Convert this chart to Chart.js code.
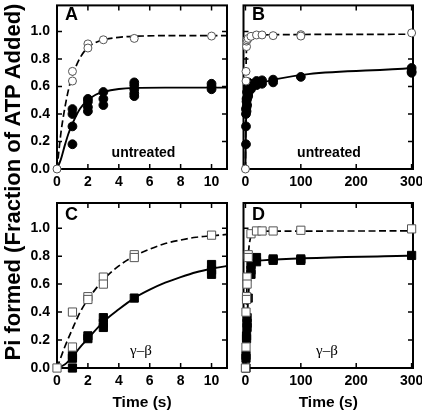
<!DOCTYPE html>
<html>
<head>
<meta charset="utf-8">
<script src="https://cdn.jsdelivr.net/npm/chart.js@4.4.0/dist/chart.umd.min.js"></script>
<style>
  html, body { margin: 0; padding: 0; background: #fff; }
  #wrap { position: relative; width: 422px; height: 412px; overflow: hidden; font-family: Arial, "Liberation Sans", sans-serif; }
  #wrap canvas { position: absolute; left: 0; top: 0; }
  .txt { position: absolute; color: #000; white-space: nowrap; }
  .letter { font-weight: bold; font-size: 18px; line-height: 18px; }
  .cond { font-weight: bold; font-size: 14px; line-height: 14px; width: 100px; text-align: center; }
  .gb { font-family: "Liberation Serif", "Times New Roman", serif; font-size: 15px; line-height: 15px; width: 60px; text-align: center; }
  #ytitle { font-weight: bold; font-size: 22px; line-height: 24px; width: 420px; text-align: center;
            left: -197px; top: 170px; transform: rotate(-90deg); }
</style>
</head>
<body>
<div id="wrap">
  <canvas id="panelA" width="422" height="412"></canvas>
  <canvas id="panelB" width="422" height="412"></canvas>
  <canvas id="panelC" width="422" height="412"></canvas>
  <canvas id="panelD" width="422" height="412"></canvas>
  <div class="txt" id="ytitle">Pi formed (Fraction of ATP Added)</div>
  <div class="txt letter" style="left:65px; top:4.7px;">A</div>
  <div class="txt letter" style="left:252px; top:4.7px;">B</div>
  <div class="txt letter" style="left:65px; top:204.7px;">C</div>
  <div class="txt letter" style="left:252px; top:204.7px;">D</div>
  <div class="txt cond" style="left:93.5px; top:145px;">untreated</div>
  <div class="txt cond" style="left:279px; top:145px;">untreated</div>
  <div class="txt gb" style="left:111px; top:342.5px;">γ–β</div>
  <div class="txt gb" style="left:297px; top:342.5px;">γ–β</div>
</div>
<script>
// Panel A: untreated, 0-10 s
const aOpenT = [0, 1, 1, 2, 2, 3, 5, 10];
const aOpenY = [0, 0.71, 0.64, 0.91, 0.88, 0.94, 0.95, 0.967];
const aFillT = [1, 1, 1, 1, 2, 2, 2, 2, 3, 3, 3, 5, 5, 5, 5, 5, 10, 10, 10];
const aFillY = [0.436, 0.40, 0.31, 0.18, 0.51, 0.49, 0.45, 0.42, 0.56, 0.51, 0.465, 0.63, 0.61, 0.58, 0.55, 0.53, 0.62, 0.60, 0.58];
const aFitT = [0, 0.25, 0.5, 0.75, 1, 1.5, 2, 2.5, 3, 4, 5, 7, 11];
const aDashY = [0, 0.26, 0.44, 0.58, 0.68, 0.81, 0.885, 0.92, 0.94, 0.958, 0.965, 0.97, 0.97];
const aSolidY = [0, 0.07, 0.17, 0.26, 0.33, 0.44, 0.50, 0.54, 0.56, 0.582, 0.59, 0.592, 0.592];

// Panel B: untreated, 0-300 s
const bOpenT = [0, 1, 1, 2, 2, 3, 5, 10, 20, 30, 50, 100, 100, 300];
const bOpenY = [0, 0.71, 0.64, 0.89, 0.93, 0.94, 0.95, 0.965, 0.975, 0.975, 0.97, 0.977, 0.967, 0.99];
const bFillT = [1, 1, 1, 1, 2, 2, 2, 2, 3, 3, 3, 5, 5, 5, 5, 5, 10, 10, 10, 20, 20, 30, 30, 50, 50, 100, 300, 300, 300];
const bFillY = [0.436, 0.40, 0.31, 0.18, 0.51, 0.49, 0.45, 0.42, 0.56, 0.51, 0.465, 0.63, 0.61, 0.58, 0.55, 0.53, 0.62, 0.60, 0.58, 0.64, 0.61, 0.645, 0.62, 0.65, 0.63, 0.67, 0.735, 0.71, 0.70];
const bFitT = [0, 1, 2, 3, 5, 10, 300];
const bDashY = [0, 0.68, 0.885, 0.94, 0.965, 0.975, 0.98];
const bSolidY = [0, 0.33, 0.50, 0.56, 0.59, 0.605, 0.735];

// Panel C: gamma-beta, 0-10 s
const cOpenT = [0, 1, 1, 2, 2, 3, 3, 5, 5, 10];
const cOpenY = [0, 0.40, 0.15, 0.51, 0.49, 0.65, 0.60, 0.81, 0.79, 0.95];
const cFillT = [1, 1, 1, 2, 2, 3, 3, 3, 5, 10, 10, 10];
const cFillY = [0, 0.07, 0.09, 0.21, 0.23, 0.29, 0.32, 0.36, 0.50, 0.67, 0.70, 0.74];
const cFitT = [0, 0.5, 1, 1.5, 2, 3, 4, 5, 6, 7, 8, 9, 10, 11];
const cDashY = [0, 0.15, 0.28, 0.40, 0.49, 0.63, 0.73, 0.80, 0.85, 0.89, 0.915, 0.935, 0.945, 0.955];
const cSolidY = [0, 0.025, 0.08, 0.15, 0.21, 0.33, 0.42, 0.50, 0.56, 0.61, 0.65, 0.685, 0.71, 0.73];

// Panel D: gamma-beta, 0-300 s
const dOpenT = [0, 1, 1, 2, 2, 3, 3, 5, 5, 10, 20, 30, 50, 100, 300];
const dOpenY = [0, 0.40, 0.15, 0.51, 0.49, 0.65, 0.60, 0.81, 0.79, 0.96, 0.98, 0.98, 0.98, 0.985, 0.995];
const dFillT = [1, 1, 1, 2, 2, 3, 3, 3, 5, 10, 10, 10, 20, 20, 50, 50, 100, 100, 300];
const dFillY = [0, 0.07, 0.09, 0.21, 0.23, 0.29, 0.32, 0.36, 0.50, 0.67, 0.70, 0.74, 0.76, 0.79, 0.77, 0.78, 0.77, 0.78, 0.805];
const dFitT = [0, 1, 2, 3, 5, 10, 15, 20, 30, 300];
const dDashY = [0, 0.28, 0.49, 0.63, 0.80, 0.945, 0.97, 0.975, 0.978, 0.98];
const dSolidY = [0, 0.08, 0.21, 0.33, 0.50, 0.71, 0.75, 0.765, 0.77, 0.805];

// tick labels
const shortTicks = [0, 2, 4, 6, 8, 10];
const longTicks = [0, 100, 200, 300];
const yTicks = [0, 0.2, 0.4, 0.6, 0.8, 1.0];

const FONT = 'Arial, "Liberation Sans", sans-serif';

function pts(ts, ys) {
    return ts.map((t, i) => ({ x: t, y: ys[i] }));
}

function markers(ts, ys, style, filled, r) {
    return {
        data: pts(ts, ys),
        showLine: false,
        pointStyle: style,
        pointRadius: r,
        pointHoverRadius: r,
        pointBackgroundColor: filled ? '#000' : '#fff',
        pointBorderColor: filled ? '#000' : '#555',
        pointBorderWidth: 1,
        clip: false
    };
}

function fitLine(ts, ys, dashed) {
    return {
        data: pts(ts, ys),
        showLine: true,
        pointRadius: 0,
        pointHoverRadius: 0,
        borderColor: '#000',
        borderWidth: dashed ? 1.7 : 1.9,
        borderDash: dashed ? [7, 3.5] : [],
        cubicInterpolationMode: 'monotone'
    };
}

// frame and inward tick marks on all four sides
const frameTicks = {
    id: 'frameTicks',
    beforeDatasetsDraw(chart, args, o) {
        const { ctx, chartArea: a, scales: { x, y } } = chart;
        ctx.save();
        ctx.strokeStyle = '#000';
        ctx.lineWidth = 1.5;
        ctx.beginPath();
        o.xTicks.forEach(v => {
            const px = x.getPixelForValue(v);
            ctx.moveTo(px, a.bottom); ctx.lineTo(px, a.bottom - 5);
            ctx.moveTo(px, a.top); ctx.lineTo(px, a.top + 5);
        });
        yTicks.forEach(v => {
            const py = y.getPixelForValue(v);
            ctx.moveTo(a.left, py); ctx.lineTo(a.left + 5, py);
            ctx.moveTo(a.right, py); ctx.lineTo(a.right - 5, py);
        });
        ctx.stroke();
        ctx.lineWidth = 2;
        ctx.strokeRect(a.left, a.top, a.width, a.height);
        ctx.restore();
    }
};

function panel(id, box, xMin, xMax, xTicks, yMax, yLabels, xTitle, datasets) {
    const axisH = xTitle ? 412 - box.bottom : 31;
    return new Chart(document.getElementById(id), {
        type: 'scatter',
        data: { datasets },
        plugins: [frameTicks],
        options: {
            responsive: false,
            animation: false,
            events: [],
            layout: { padding: { left: 0, top: box.top, right: 422 - box.right, bottom: 412 - box.bottom - axisH } },
            plugins: {
                legend: { display: false },
                tooltip: { enabled: false },
                frameTicks: { xTicks }
            },
            scales: {
                x: {
                    type: 'linear', min: xMin, max: xMax,
                    grid: { display: false, drawTicks: false },
                    border: { display: false },
                    afterBuildTicks: s => { s.ticks = xTicks.map(v => ({ value: v })); },
                    afterFit: s => { s.height = axisH; s.paddingLeft = 0; s.paddingRight = 0; },
                    ticks: { color: '#000', padding: 5, maxRotation: 0, autoSkip: false, font: { family: FONT, size: 14, weight: 'bold' } },
                    title: { display: !!xTitle, text: xTitle, color: '#000', padding: { top: 0, bottom: 0 }, font: { family: FONT, size: 15.5, weight: 'bold' } }
                },
                y: {
                    type: 'linear', min: 0, max: yMax,
                    grid: { display: false, drawTicks: false },
                    border: { display: false },
                    afterBuildTicks: s => { s.ticks = yTicks.map(v => ({ value: v })); },
                    afterFit: s => { s.width = box.left; s.paddingTop = 0; s.paddingBottom = 0; },
                    ticks: { display: yLabels, color: '#000', padding: 7, callback: v => v.toFixed(1), font: { family: FONT, size: 14, weight: 'bold' } }
                }
            }
        }
    });
}

panel('panelA', { left: 57, right: 227, top: 1, bottom: 169 }, 0, 11, shortTicks, 1.19, true, '', [
    markers(aOpenT, aOpenY, 'circle', false, 4),
    markers(aFillT, aFillY, 'circle', true, 4.4),
    fitLine(aFitT, aDashY, true),
    fitLine(aFitT, aSolidY, false)
]);

panel('panelB', { left: 243.5, right: 413, top: 1, bottom: 169 }, -3.5, 302.5, longTicks, 1.19, false, '', [
    markers(bOpenT, bOpenY, 'circle', false, 4),
    markers(bFillT, bFillY, 'circle', true, 4.4),
    fitLine(bFitT, bDashY, true),
    fitLine(bFitT, bSolidY, false)
]);

panel('panelC', { left: 57, right: 227, top: 203, bottom: 368 }, 0, 11, shortTicks, 1.18, true, 'Time (s)', [
    markers(cOpenT, cOpenY, 'rect', false, 5.8),
    markers(cFillT, cFillY, 'rect', true, 5.8),
    fitLine(cFitT, cDashY, true),
    fitLine(cFitT, cSolidY, false)
]);

panel('panelD', { left: 243.5, right: 413, top: 203, bottom: 368 }, -3.5, 302.5, longTicks, 1.18, false, 'Time (s)', [
    markers(dOpenT, dOpenY, 'rect', false, 5.8),
    markers(dFillT, dFillY, 'rect', true, 5.8),
    fitLine(dFitT, dDashY, true),
    fitLine(dFitT, dSolidY, false)
]);
</script>
</body>
</html>
